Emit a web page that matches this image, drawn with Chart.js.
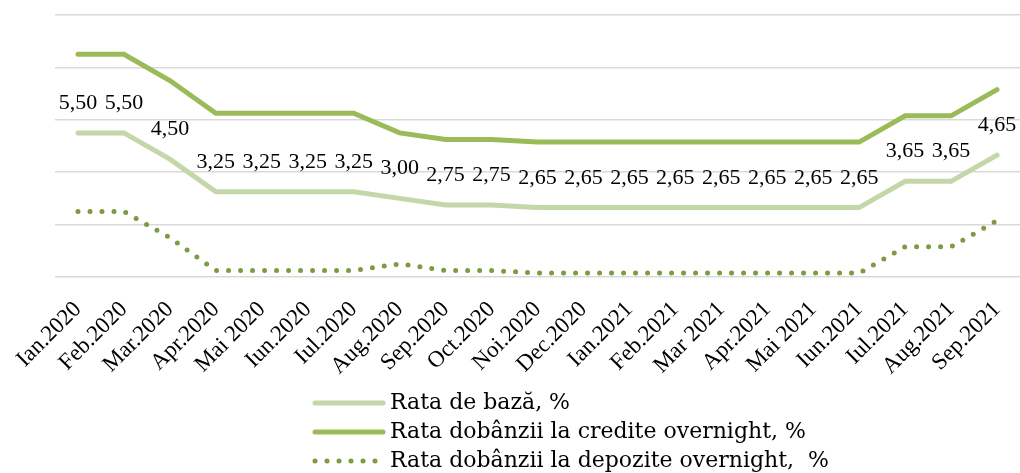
<!DOCTYPE html>
<html><head><meta charset="utf-8">
<script src="https://cdn.jsdelivr.net/npm/chart.js@4.4.0/dist/chart.umd.min.js"></script>
<style>html,body{margin:0;padding:0;background:#fff}canvas{display:block}</style>
</head><body>
<canvas id="c" width="1020" height="473"></canvas>
<script>
const categories = ['Ian.2020','Feb.2020','Mar.2020','Apr.2020','Mai 2020','Iun.2020','Iul.2020','Aug.2020','Sep.2020','Oct.2020','Noi.2020','Dec.2020','Ian.2021','Feb.2021','Mar 2021','Apr.2021','Mai 2021','Iun.2021','Iul.2021','Aug.2021','Sep.2021'];
const rataDeBaza = [5.50,5.50,4.50,3.25,3.25,3.25,3.25,3.00,2.75,2.75,2.65,2.65,2.65,2.65,2.65,2.65,2.65,2.65,3.65,3.65,4.65];
const crediteOvernight = [8.50,8.50,7.50,6.25,6.25,6.25,6.25,5.50,5.25,5.25,5.15,5.15,5.15,5.15,5.15,5.15,5.15,5.15,6.15,6.15,7.15];
const depoziteOvernight = [2.50,2.50,1.50,0.25,0.25,0.25,0.25,0.50,0.25,0.25,0.15,0.15,0.15,0.15,0.15,0.15,0.15,0.15,1.15,1.15,2.15];
const seriesNames = ['Rata de bază, %','Rata dobânzii la credite overnight, %','Rata dobânzii la depozite overnight,  %'];
const yTickValues = [0,2,4,6,8,10];

const valueLabels = {
  id: 'valueLabels',
  afterDatasetsDraw(chart) {
    const meta = chart.getDatasetMeta(0);
    const data = chart.data.datasets[0].data;
    const ctx = chart.ctx;
    ctx.save();
    ctx.font = '22px "Liberation Serif"';
    ctx.fillStyle = '#000';
    ctx.textAlign = 'center';
    ctx.textBaseline = 'alphabetic';
    meta.data.forEach((pt, i) => {
      ctx.fillText(data[i].toFixed(2).replace('.', ','), pt.x, pt.y - 24);
    });
    ctx.restore();
  }
};

const bottomLegend = {
  id: 'bottomLegend',
  afterDraw(chart) {
    const ctx = chart.ctx;
    const rows = [403, 432, 461];
    chart.data.datasets.forEach((ds, i) => {
      const y = rows[i];
      ctx.save();
      ctx.strokeStyle = ds.borderColor;
      ctx.lineWidth = ds.borderWidth;
      ctx.lineCap = 'round';
      ctx.setLineDash(ds.borderDash || []);
      ctx.beginPath();
      ctx.moveTo(315, y);
      ctx.lineTo(383, y);
      ctx.stroke();
      ctx.setLineDash([]);
      ctx.font = '22px "DejaVu Serif"';
      ctx.fillStyle = '#000';
      ctx.textAlign = 'left';
      ctx.textBaseline = 'middle';
      ctx.fillText(ds.label, 390, y);
      ctx.restore();
    });
  }
};

new Chart(document.getElementById('c'), {
  type: 'line',
  data: {
    labels: categories,
    datasets: [
      { label: seriesNames[0], data: rataDeBaza, borderColor: '#c4d7a9', borderWidth: 5, pointRadius: 0, borderCapStyle: 'round', borderJoinStyle: 'miter', tension: 0 },
      { label: seriesNames[1], data: crediteOvernight, borderColor: '#9bbb59', borderWidth: 5, pointRadius: 0, borderCapStyle: 'round', borderJoinStyle: 'miter', tension: 0 },
      { label: seriesNames[2], data: depoziteOvernight, borderColor: '#7c9b42', borderWidth: 5, borderDash: [0, 12], pointRadius: 0, borderCapStyle: 'round', tension: 0 }
    ]
  },
  options: {
    responsive: false,
    animation: false,
    devicePixelRatio: 1,
    layout: { padding: { left: 0, right: 0, top: 15, bottom: 83 } },
    plugins: { legend: { display: false }, tooltip: { enabled: false } },
    scales: {
      x: {
        offset: true,
        grid: { display: false },
        border: { display: false },
        ticks: { autoSkip: false, maxRotation: 45, minRotation: 45, color: '#000', padding: 11, font: { family: 'Liberation Serif', size: 23 } },
        afterFit(s) { s.height = 113; s.paddingLeft = 0; s.paddingRight = 0; }
      },
      y: {
        min: yTickValues[0],
        max: yTickValues[yTickValues.length - 1],
        ticks: { display: false },
        afterBuildTicks(s) { s.ticks = yTickValues.map(v => ({ value: v })); },
        grid: { color: '#d9d9d9', lineWidth: 1.5, drawTicks: false },
        border: { display: false },
        afterFit(s) { s.width = 55; }
      }
    }
  },
  plugins: [valueLabels, bottomLegend]
});
</script>
</body></html>
